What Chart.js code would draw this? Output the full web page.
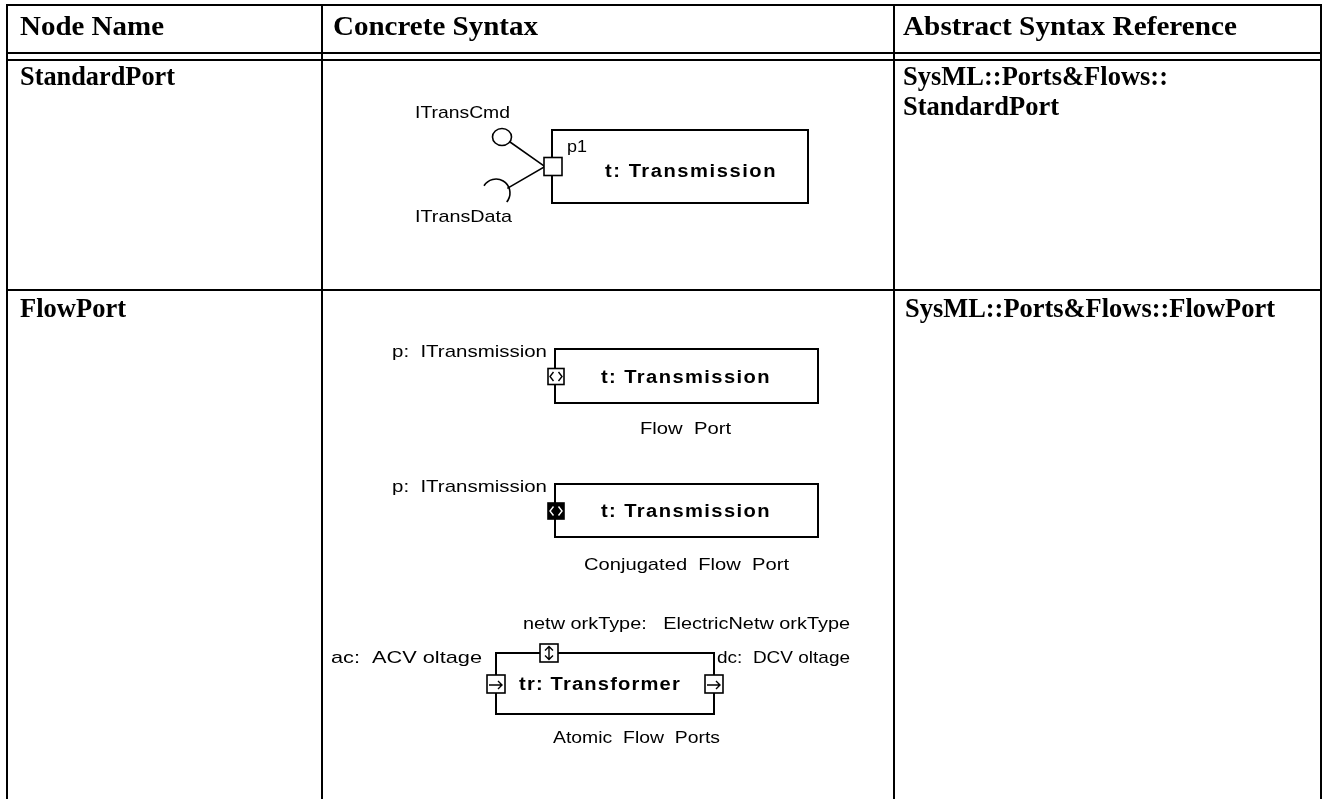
<!DOCTYPE html>
<html lang="en">
<head>
<meta charset="UTF-8">
<title>SysML Ports</title>
<script src="https://cdn.jsdelivr.net/npm/chart.js"></script>
<style>
  html, body { margin: 0; padding: 0; background: #fff; }
  canvas { display: block; }
</style>
</head>
<body>
<canvas id="sheet" width="1327" height="799"></canvas>
<script>
// table text
const headers = ['Node Name', 'Concrete Syntax', 'Abstract Syntax Reference'];
const nodeNames = ['StandardPort', 'FlowPort'];
const abstractRefs = ['SysML::Ports&Flows::', 'StandardPort', 'SysML::Ports&Flows::FlowPort'];

// diagram labels
const stdLabels = ['ITransCmd', 'p1', 'ITransData'];
const partLabels = ['t: Transmission', 't: Transmission', 't: Transmission', 'tr: Transformer'];
const flowLabels = ['p:  ITransmission', 'Flow  Port', 'p:  ITransmission', 'Conjugated  Flow  Port'];
const atomicLabels = ['netw orkType:   ElectricNetw orkType', 'ac:  ACV oltage', 'dc:  DCV oltage', 'Atomic  Flow  Ports'];

// geometry, page pixels
const colX = [7, 322, 894, 1321];
const rowY = [5, 53, 60, 290];
const pageBottom = 799;
const boxes = [[552, 130, 808, 203], [555, 349, 818, 403], [555, 484, 818, 537], [496, 653, 714, 714]];
const ports = [[553, 166.5, 18, 'plain'], [556, 376.5, 16, 'flow'], [556, 511, 16, 'conj'],
               [496, 684, 18, 'arrow'], [714, 684, 18, 'arrow'], [549, 653, 18, 'updown']];
const wires = [[[510, 142], [544, 166]], [[544, 167], [508, 188]]];
const ball = [502, 137, 9.5, 8.5];
const socket = [496, 193, 14, -2.6, 0.7];

// text positions: [x, baseline, width]
const headerPos = [[20, 35, 144], [333, 35, 205], [903, 35, 334]];
const nodePos = [[20, 85, 155], [20, 317, 106]];
const refPos = [[903, 85, 265], [903, 115, 156], [905, 317, 370]];
const stdPos = [[415, 118, 95], [567, 152, 20], [415, 222, 97]];
const partPos = [[605, 177, 172], [601, 383, 170], [601, 517, 170], [519, 690, 162]];
const flowPos = [[392, 357, 155], [640, 434, 91], [392, 492, 155], [584, 570, 205]];
const atomicPos = [[523, 629, 327], [331, 663, 151], [717, 663, 133], [553, 743, 167]];

const datasets = [];
function polyline(pts, width) {
    datasets.push({
        data: pts.map(p => ({ x: p[0], y: p[1] })),
        showLine: true,
        borderColor: '#000',
        borderWidth: width,
        borderCapStyle: 'square',
        borderJoinStyle: 'miter',
        pointRadius: 0,
        fill: false,
        tension: 0
    });
}

// table grid
colX.forEach(x => polyline([[x, rowY[0]], [x, pageBottom]], 2));
rowY.forEach(y => polyline([[colX[0], y], [colX[3], y]], 2));

// part boxes
boxes.forEach(b => polyline([[b[0], b[1]], [b[2], b[1]], [b[2], b[3]], [b[0], b[3]], [b[0], b[1]]], 2));

// interface wires
wires.forEach(w => polyline(w, 1.6));

function fitText(ctx, str, x, y, w, font, spaced) {
    ctx.save();
    ctx.font = font;
    ctx.letterSpacing = '0px';
    let natural = ctx.measureText(str).width;
    if (spaced) {
        const ls = Math.max(0, (w / 1.12 - natural) / str.length);
        ctx.letterSpacing = ls + 'px';
        natural = ctx.measureText(str).width;
    }
    ctx.translate(x, y);
    ctx.scale(w / natural, 1);
    ctx.fillStyle = '#000';
    ctx.textBaseline = 'alphabetic';
    ctx.fillText(str, 0, 0);
    ctx.restore();
}

const sheetPlugin = {
    id: 'sheet',
    afterDatasetsDraw(chart) {
        const ctx = chart.ctx;
        const sx = v => chart.scales.x.getPixelForValue(v);
        const sy = v => chart.scales.y.getPixelForValue(v);
        const len = v => sx(v) - sx(0);

        ctx.save();
        ctx.strokeStyle = '#000';
        ctx.lineWidth = 1.6;

        // lollipop and socket
        ctx.beginPath();
        ctx.ellipse(sx(ball[0]), sy(ball[1]), len(ball[2]), len(ball[3]), 0, 0, Math.PI * 2);
        ctx.stroke();
        ctx.beginPath();
        ctx.arc(sx(socket[0]), sy(socket[1]), len(socket[2]), socket[3], socket[4]);
        ctx.stroke();

        // ports
        ports.forEach(p => {
            const cx = sx(p[0]), cy = sy(p[1]), h = len(p[2]) / 2;
            const dark = p[3] === 'conj';
            ctx.fillStyle = dark ? '#000' : '#fff';
            ctx.fillRect(cx - h, cy - h, h * 2, h * 2);
            ctx.lineWidth = 1.6;
            ctx.strokeStyle = '#000';
            ctx.strokeRect(cx - h, cy - h, h * 2, h * 2);
            ctx.strokeStyle = dark ? '#fff' : '#000';
            ctx.lineWidth = 1.4;
            ctx.beginPath();
            if (p[3] === 'flow' || p[3] === 'conj') {
                ctx.moveTo(cx - 2.5, cy - 4.5); ctx.lineTo(cx - 6, cy); ctx.lineTo(cx - 2.5, cy + 4.5);
                ctx.moveTo(cx + 2.5, cy - 4.5); ctx.lineTo(cx + 6, cy); ctx.lineTo(cx + 2.5, cy + 4.5);
            } else if (p[3] === 'arrow') {
                ctx.moveTo(cx - 7, cy + 1); ctx.lineTo(cx + 6, cy + 1);
                ctx.moveTo(cx + 2, cy - 3); ctx.lineTo(cx + 6, cy + 1); ctx.lineTo(cx + 2, cy + 5);
            } else if (p[3] === 'updown') {
                ctx.moveTo(cx, cy - 6.5); ctx.lineTo(cx, cy + 6.5);
                ctx.moveTo(cx - 4, cy - 2.5); ctx.lineTo(cx, cy - 6.5); ctx.lineTo(cx + 4, cy - 2.5);
                ctx.moveTo(cx - 4, cy + 2.5); ctx.lineTo(cx, cy + 6.5); ctx.lineTo(cx + 4, cy + 2.5);
            }
            ctx.stroke();
        });
        ctx.restore();

        const put = (list, pos, font, spaced) => list.forEach((t, i) =>
            fitText(ctx, t, sx(pos[i][0]), sy(pos[i][1]), len(pos[i][2]), font, spaced));

        put(headers, headerPos, 'bold 28px "Liberation Serif"', false);
        put(nodeNames, nodePos, 'bold 27px "Liberation Serif"', false);
        put(abstractRefs, refPos, 'bold 27px "Liberation Serif"', false);
        put(stdLabels, stdPos, '17px "Liberation Sans"', false);
        put(flowLabels, flowPos, '17px "Liberation Sans"', false);
        put(atomicLabels, atomicPos, '17px "Liberation Sans"', false);
        put(partLabels, partPos, 'bold 18px "Liberation Sans"', true);
    }
};

new Chart(document.getElementById('sheet'), {
    type: 'scatter',
    data: { datasets: datasets },
    options: {
        responsive: false,
        animation: false,
        events: [],
        layout: { padding: 0 },
        plugins: { legend: { display: false }, tooltip: { enabled: false } },
        scales: {
            x: { type: 'linear', min: 0, max: 1327, display: false },
            y: { type: 'linear', min: 0, max: pageBottom, reverse: true, display: false }
        }
    },
    plugins: [sheetPlugin]
});
</script>
</body>
</html>
